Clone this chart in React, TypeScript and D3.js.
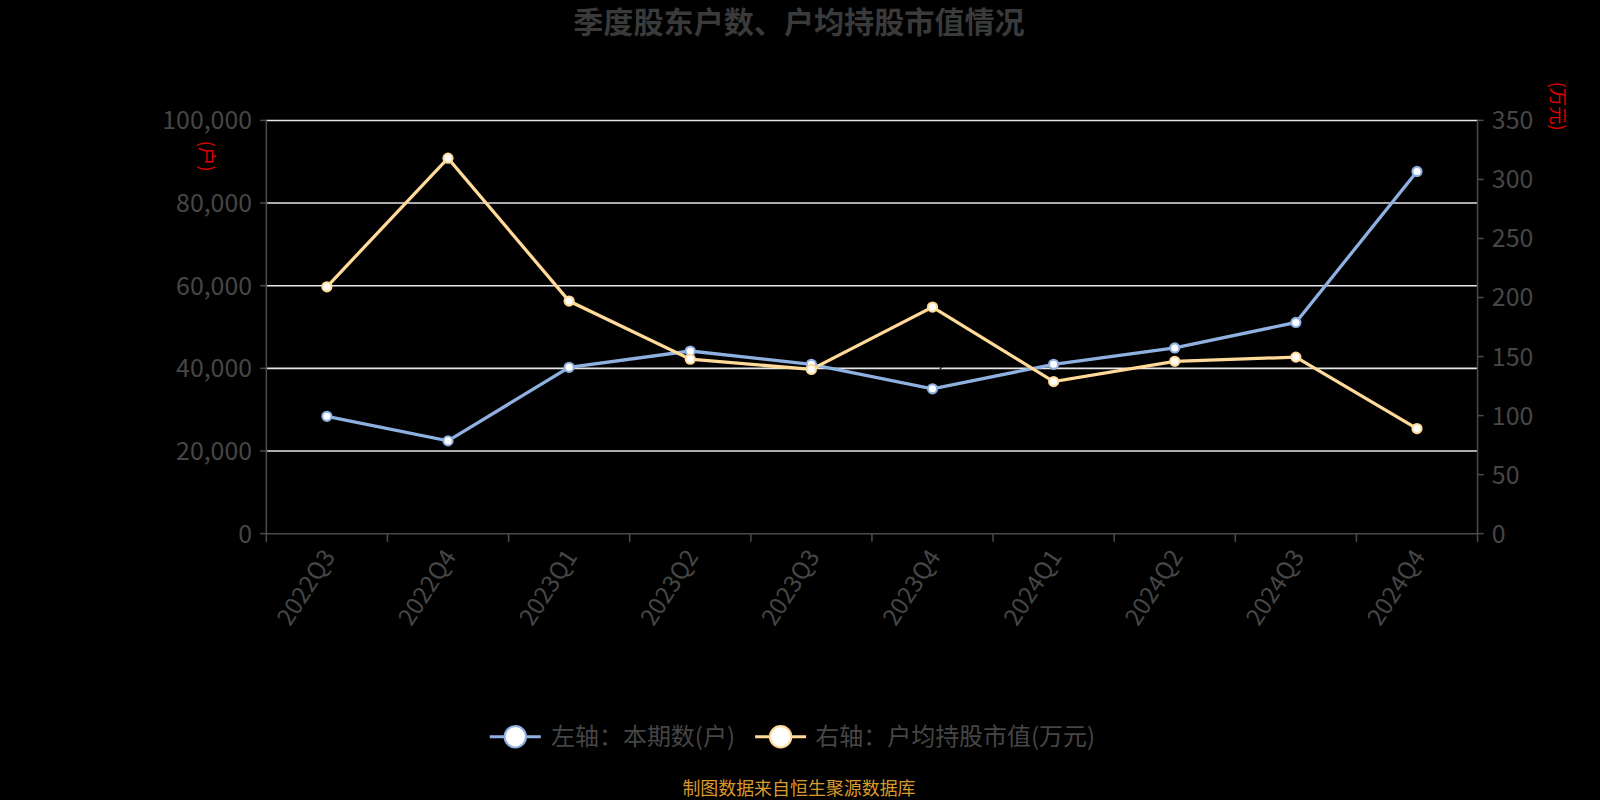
import React from "react";
import * as d3 from "d3";

const categories = ["2022Q3", "2022Q4", "2023Q1", "2023Q2", "2023Q3", "2023Q4", "2024Q1", "2024Q2", "2024Q3", "2024Q4"];
const holders = [28400, 22450, 40250, 44200, 40980, 35060, 40990, 44940, 51110, 87650];
const avgValue = [209.1, 318.0, 197.0, 147.8, 139.1, 191.9, 128.8, 146.0, 149.5, 89.0];
const leftTicks = [0, 20000, 40000, 60000, 80000, 100000];
const rightTicks = [0, 50, 100, 150, 200, 250, 300, 350];

const W = 1600, H = 800;
const S = 1 / 0.98;
const L = 261, R = 1448, T = 118, B = 523;
const FONT = "'Noto Sans CJK SC', 'Noto Sans', sans-serif";
const BLUE = "#8fb1e1";
const YELLOW = "#ffda98";
const AXIS = "#4a4a4a";
const LABEL = "#464646";

export default function App() {
  const x = d3.scaleBand<string>().domain(categories).range([L, R]);
  const cx = (c: string) => (x(c) as number) + x.bandwidth() / 2;
  const yL = d3.scaleLinear().domain([0, 100000]).range([B, T]);
  const yR = d3.scaleLinear().domain([0, 350]).range([B, T]);
  const fmt = d3.format(",");
  const lineL = d3.line<number>().x((_, i) => cx(categories[i])).y((d) => yL(d));
  const lineR = d3.line<number>().x((_, i) => cx(categories[i])).y((d) => yR(d));
  const boundaries = [...categories.map((c) => x(c) as number), R];

  return (
    <div style={{ position: "absolute", left: 0, top: 0, width: W, height: H, background: "#000" }}>
      <svg width={W} height={H} style={{ display: "block", fontFamily: FONT }}>
        <rect x={0} y={0} width={W} height={H} fill="#000" />
        <g transform={`scale(${S})`}>
          <text x={783} y={32} textAnchor="middle" fontSize={29.5} fontWeight="bold" fill="#3a3a3a">
            季度股东户数、户均持股市值情况
          </text>

          {/* grid */}
          {leftTicks.filter((t) => t > 0).map((t) => (
            <line key={t} x1={L} x2={R} y1={yL(t)} y2={yL(t)} stroke="#e6e6e6" strokeWidth={1.5} />
          ))}

          {/* hidden data labels (black on black) */}
          {holders.map((v, i) => (
            <text key={"lb" + i} x={cx(categories[i]) + 13} y={yL(v) - 28} dy="0.36em" textAnchor="middle" fontSize={17} fill="#000">
              {fmt(v)}
            </text>
          ))}

          {/* axes */}
          <line x1={L} x2={L} y1={T} y2={B} stroke={AXIS} strokeWidth={1.5} />
          <line x1={R} x2={R} y1={T} y2={B} stroke={AXIS} strokeWidth={1.5} />
          <line x1={L} x2={R} y1={B} y2={B} stroke={AXIS} strokeWidth={1.5} />
          {leftTicks.map((t) => (
            <g key={"l" + t}>
              <line x1={L - 6} x2={L} y1={yL(t)} y2={yL(t)} stroke={AXIS} strokeWidth={1.5} />
              <text x={L - 14} y={yL(t)} dy="0.36em" textAnchor="end" fontSize={24.4} fill={LABEL}>
                {fmt(t)}
              </text>
            </g>
          ))}
          {rightTicks.map((t) => (
            <g key={"r" + t}>
              <line x1={R} x2={R + 6} y1={yR(t)} y2={yR(t)} stroke={AXIS} strokeWidth={1.5} />
              <text x={R + 14} y={yR(t)} dy="0.36em" textAnchor="start" fontSize={24.4} fill={LABEL}>
                {t}
              </text>
            </g>
          ))}
          {boundaries.map((b, i) => (
            <line key={"xt" + i} x1={b} x2={b} y1={B} y2={B + 8} stroke={AXIS} strokeWidth={1.5} />
          ))}
          {categories.map((c) => (
            <text
              key={c}
              transform={`translate(${cx(c) + 2},${B + 18}) rotate(-57)`}
              textAnchor="end"
              dy="0.35em"
              fontSize={23.5}
              fill={LABEL}
            >
              {c}
            </text>
          ))}

          {/* unit labels */}
          <text transform={`translate(196,138) rotate(90)`} fontSize={18} fill="#e00000">(户)</text>
          <text transform={`translate(1520,80) rotate(90)`} fontSize={18} fill="#e00000">(万元)</text>

          {/* series */}
          <path d={lineL(holders) || ""} fill="none" stroke={BLUE} strokeWidth={3.2} />
          <path d={lineR(avgValue) || ""} fill="none" stroke={YELLOW} strokeWidth={3.2} />
          {holders.map((v, i) => (
            <circle key={"bp" + i} cx={cx(categories[i])} cy={yL(v)} r={4.5} fill="#fff" stroke={BLUE} strokeWidth={2} />
          ))}
          {avgValue.map((v, i) => (
            <circle key={"yp" + i} cx={cx(categories[i])} cy={yR(v)} r={4.5} fill="#fff" stroke={YELLOW} strokeWidth={2} />
          ))}

          {/* legend */}
          <g>
            <line x1={480} x2={530} y1={722} y2={722} stroke={BLUE} strokeWidth={3} />
            <circle cx={505} cy={722} r={10.5} fill="#fff" stroke={BLUE} strokeWidth={2} />
            <text x={540} y={722} dy="0.36em" fontSize={23.5} fill={LABEL}>左轴：本期数(户)</text>
            <line x1={740} x2={790} y1={722} y2={722} stroke={YELLOW} strokeWidth={3} />
            <circle cx={765} cy={722} r={10.5} fill="#fff" stroke={YELLOW} strokeWidth={2} />
            <text x={799} y={722} dy="0.36em" fontSize={23.5} fill={LABEL}>右轴：户均持股市值(万元)</text>
          </g>

          <text x={783} y={773} dy="0.36em" textAnchor="middle" fontSize={17.6} fill="#d99a2b">
            制图数据来自恒生聚源数据库
          </text>
        </g>
      </svg>
    </div>
  );
}
